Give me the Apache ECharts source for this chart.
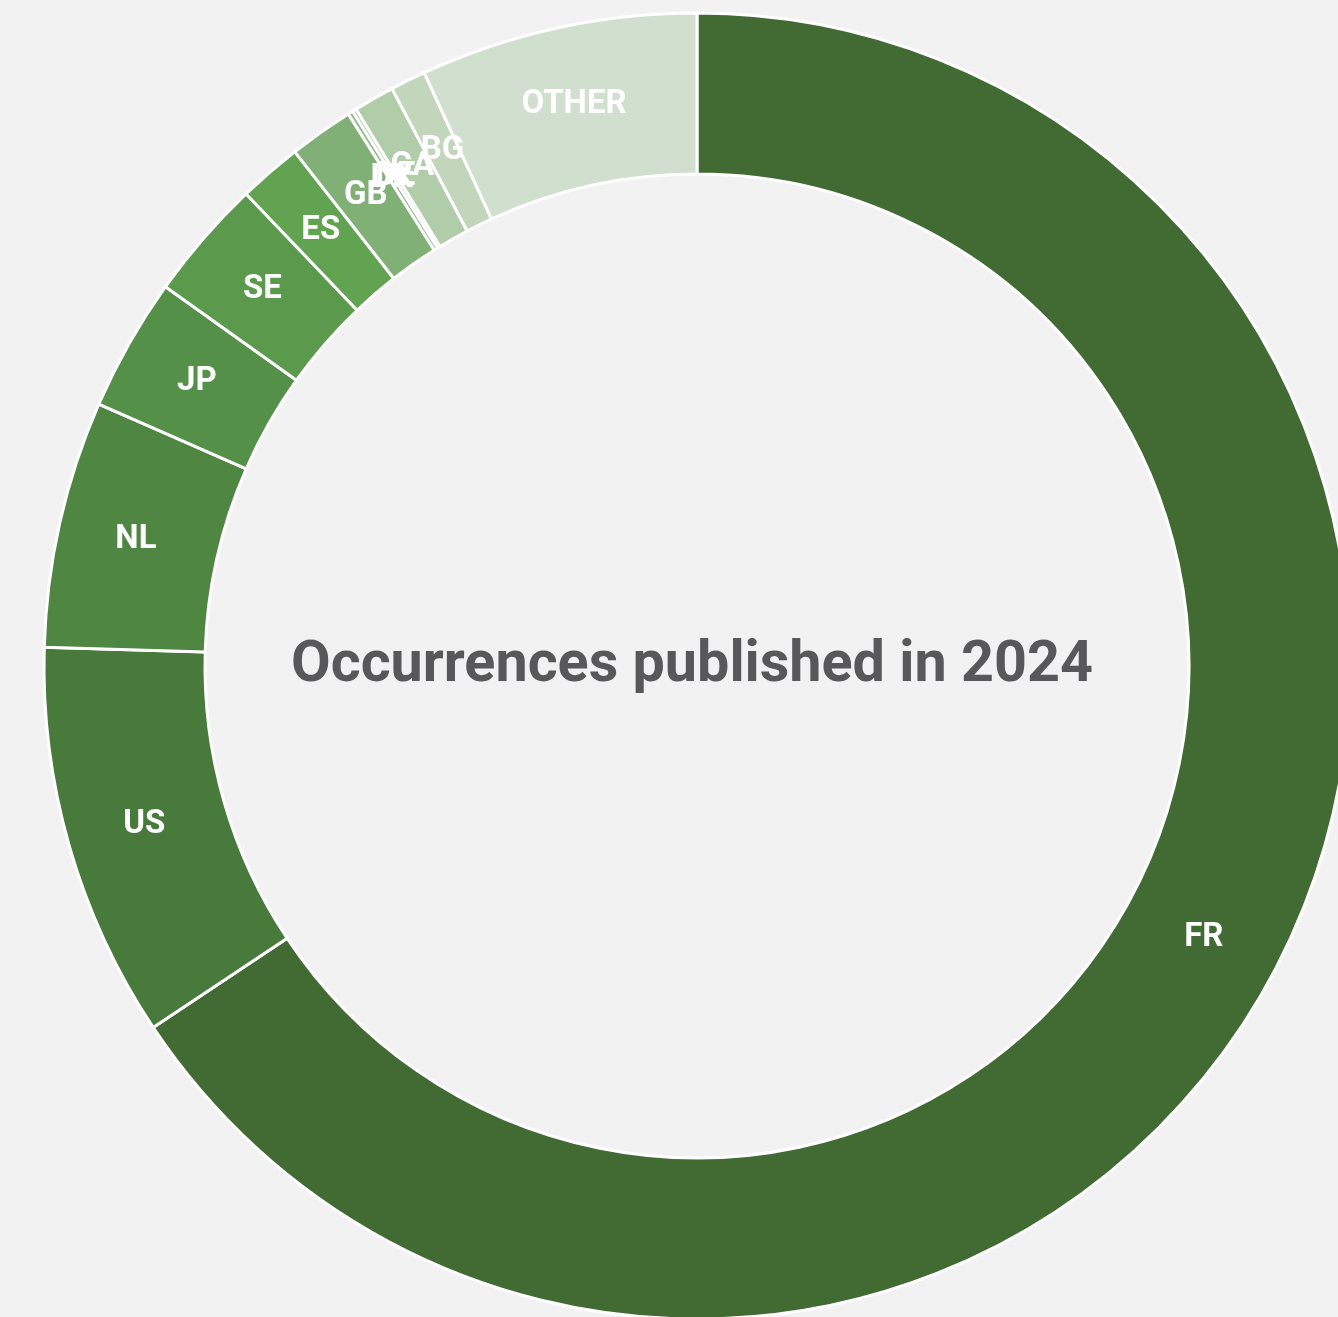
<!DOCTYPE html>
<html>
<head>
<meta charset="utf-8">
<script src="https://cdn.jsdelivr.net/npm/echarts@6/dist/echarts.min.js"></script>
<style>
html,body{margin:0;padding:0;background:#f2f2f2;}
#chart{width:1338px;height:1317px;}
</style>
</head>
<body>
<div id="chart"></div>
<script>
const categories = ['FR', 'US', 'NL', 'JP', 'SE', 'ES', 'GB', 'DK', 'DE', 'CA', 'BG', 'OTHER'];
const values = [65.67, 9.79, 6.11, 3.30, 3.00, 1.57, 1.60, 0.125, 0.097, 1.01, 0.875, 6.86];
const colors = ['#416b33', '#487a3c', '#4f8642', '#559048', '#5b9a4d', '#62a352', '#80b076', '#93bb8a', '#a3c59b', '#b0cca8', '#c1d6bb', '#d1dfcf'];
const centerTitle = 'Occurrences published in 2024';

const total = values.reduce((a, b) => a + b, 0);
const mids = [];
let acc = 0;
values.forEach(v => { mids.push(acc + v / 2); acc += v; });

const OUTER = 653, INNER = 492, LABEL_R = 575;

const chart = echarts.init(document.getElementById('chart'));
chart.setOption({
  backgroundColor: '#f2f2f2',
  animation: false,
  graphic: [{
    type: 'text',
    x: 692,
    y: 667,
    style: {
      text: centerTitle,
      textAlign: 'center',
      textVerticalAlign: 'middle',
      fontFamily: 'Roboto',
      fontWeight: 'bold',
      fontSize: 57.5,
      fill: '#58585a'
    }
  }],
  polar: { center: [697, 666], radius: [0, OUTER] },
  angleAxis: { type: 'value', min: 0, max: total, startAngle: 90, clockwise: true, show: false },
  radiusAxis: { type: 'value', min: 0, max: OUTER, show: false },
  series: [{
    type: 'pie',
    center: [697, 666],
    radius: [INNER, OUTER],
    startAngle: 90,
    clockwise: true,
    minAngle: 0,
    itemStyle: { borderColor: '#ffffff', borderWidth: 3 },
    label: { show: false },
    labelLine: { show: false },
    emphasis: { disabled: true },
    data: categories.map((c, i) => ({ name: c, value: values[i], itemStyle: { color: colors[i] } }))
  }, {
    type: 'scatter',
    coordinateSystem: 'polar',
    symbolSize: 1,
    itemStyle: { color: 'rgba(0,0,0,0)', opacity: 1 },
    silent: true,
    z: 10,
    label: {
      show: true,
      position: 'inside',
      offset: [0, 3],
      color: '#ffffff',
      opacity: 1,
      fontFamily: 'Roboto',
      fontWeight: 'bold',
      fontSize: 33,
      formatter: '{b}'
    },
    labelLayout: { hideOverlap: false },
    emphasis: { disabled: true },
    data: categories.map((c, i) => ({ name: c, value: [LABEL_R, mids[i]] }))
  }]
});
</script>
</body>
</html>
